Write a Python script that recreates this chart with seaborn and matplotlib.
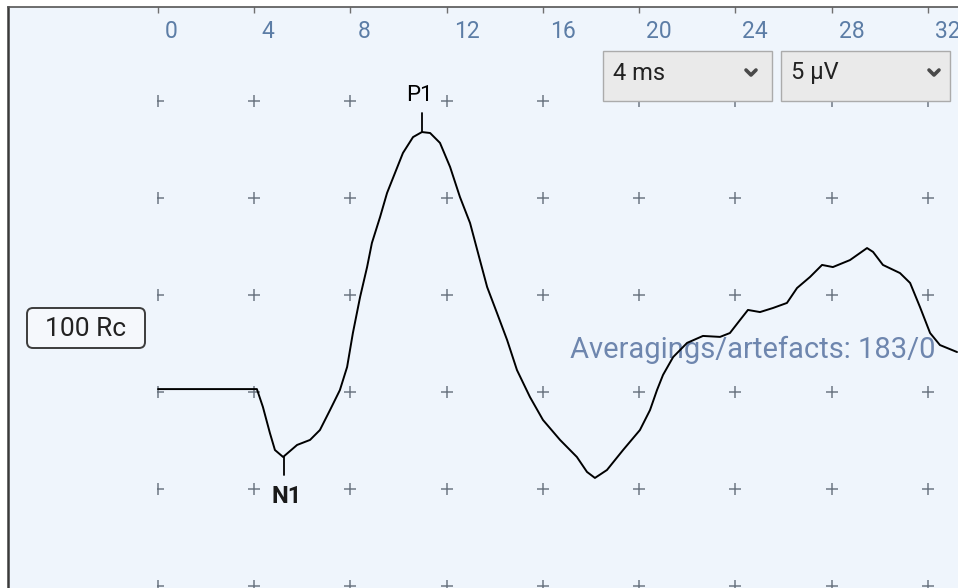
import numpy as np
import pandas as pd
import matplotlib
matplotlib.use("Agg")
import matplotlib.pyplot as plt
import seaborn as sns
from matplotlib.patches import Rectangle, FancyBboxPatch
from matplotlib.transforms import blended_transform_factory

# ---------------- data ----------------
time_ms = [0.0, 4.11, 4.36, 4.65, 4.86, 5.20, 5.78, 6.32, 6.73, 7.15, 7.56, 7.86,
           8.10, 8.40, 8.69, 8.89, 9.23, 9.52, 9.85, 10.18, 10.60, 10.97, 11.31,
           11.72, 12.14, 12.55, 12.97, 13.38, 13.68, 14.09, 14.51, 14.92, 15.46,
           16.00, 16.71, 17.41, 17.83, 18.16, 18.66, 19.33, 20.03, 20.45, 20.74,
           20.99, 21.41, 21.99, 22.65, 23.36, 23.77, 24.19, 24.52, 25.02, 25.56,
           26.14, 26.56, 27.10, 27.60, 28.05, 28.76, 29.47, 29.72, 30.13, 30.84,
           31.26, 31.67, 32.09, 32.50, 33.21]
amp_uv = [0.15, 0.15, -0.77, -2.11, -2.99, -3.35, -2.73, -2.47, -1.96, -0.93, 0.10, 1.29,
          3.04, 4.90, 6.44, 7.68, 9.02, 10.26, 11.29, 12.32, 13.14, 13.40, 13.35,
          12.84, 11.60, 10.05, 8.71, 6.80, 5.41, 4.07, 2.68, 1.13, -0.26,
          -1.44, -2.47, -3.35, -4.12, -4.43, -4.02, -2.99, -1.96, -0.93, 0.10,
          0.88, 1.80, 2.53, 2.89, 2.84, 3.04, 3.71, 4.23, 4.12, 4.33,
          4.59, 5.36, 5.93, 6.55, 6.44, 6.80, 7.42, 7.22, 6.55, 6.13,
          5.62, 4.38, 3.04, 2.42, 2.06]
x_ticks = [0, 4, 8, 12, 16, 20, 24, 28, 32]
x_tick_labels = ["0", "4", "8", "12", "16", "20", "24", "28", "32"]
grid_rows_uv = [15, 10, 5, 0, -5, -10]
peak_labels = ["P1", "N1"]
channel_label = "100 Rc"
info_text = "Averagings/artefacts: 183/0"
timebase_label = "4 ms"
gain_label = "5 µV"

df = pd.DataFrame({"t": time_ms, "v": amp_uv})

# ---------------- figure ----------------
sns.set_theme(style="white")
plt.rcParams["font.family"] = ["Roboto", "DejaVu Sans"]

W, H = 958, 588
fig = plt.figure(figsize=(W / 100, H / 100), dpi=100, facecolor="white")

ax = fig.add_axes([8 / W, 0, (W - 8) / W, (H - 7) / H], zorder=1)
ax.set_facecolor("#EFF5FC")
ax.set_xlim((8 - 158) / 24.06, (958 - 158) / 24.06)
ax.set_ylim((392 - 588) / 19.4, (392 - 7) / 19.4)

# grid of plus markers
gx, gy = np.meshgrid(x_ticks, grid_rows_uv)
clip = Rectangle((-0.06, -30), 60, 60, transform=ax.transData)
sc = ax.scatter(gx.ravel(), gy.ravel(), marker="+", s=75, c="#6E7884",
                linewidths=1.1, zorder=2)
sc.set_clip_path(clip)

# info text (under the trace)
ax.text(17.12, 2.16, info_text, ha="left", va="center", fontsize=21,
        color="#6E86AE", zorder=2)

# waveform
sns.lineplot(data=df, x="t", y="v", ax=ax, color="black", linewidth=1.4,
             estimator=None, sort=False, zorder=4)
ax.set_xlabel("")
ax.set_ylabel("")

# peak markers
i_p = int(np.argmax(amp_uv))
i_n = int(np.argmin(amp_uv[:20]))
tp, vp = time_ms[i_p], amp_uv[i_p]
tn, vn = time_ms[i_n], amp_uv[i_n]
ax.plot([tp, tp], [vp, vp + 1.0], color="black", lw=1.3, zorder=4)
ax.plot([tn + 0.05, tn + 0.05], [vn, vn - 0.95], color="black", lw=1.3, zorder=4)
ax.text(tp - 0.1, 15.3, peak_labels[0], ha="center", va="center", fontsize=16,
        color="black", zorder=5)
ax.text(tn + 0.15, -5.4, peak_labels[1], ha="center", va="center", fontsize=17,
        fontweight="bold", color="#1A1A1A", zorder=5)

# axes frame and top ticks
for s in ["right", "bottom"]:
    ax.spines[s].set_visible(False)
ax.spines["left"].set_color("#3A3A3A")
ax.spines["left"].set_linewidth(1.8)
ax.spines["top"].set_color("#555555")
ax.spines["top"].set_linewidth(1.2)
ax.set_xticks(x_ticks)
ax.set_yticks([])
ax.tick_params(axis="x", top=True, bottom=False, labeltop=False, labelbottom=False,
               direction="in", length=4, width=1, color="#707070")
tr = blended_transform_factory(ax.transData, ax.transAxes)
for t, lab in zip(x_ticks, x_tick_labels):
    ax.text(t + 0.29, (H - 31) / (H - 7), lab, transform=tr, ha="left", va="center",
            fontsize=16.5, color="#5C7DA6")

# ---------------- overlay for UI elements (pixel coords) ----------------
ov = fig.add_axes([0, 0, 1, 1], zorder=3)
ov.set_xlim(0, W)
ov.set_ylim(H, 0)
ov.axis("off")
ov.patch.set_visible(False)

# channel box
r = 6
ov.add_patch(FancyBboxPatch((27 + r, 308 + r), 118 - 2 * r, 40 - 2 * r,
                            boxstyle=f"round,pad={r}", fc="#F5F8FC", ec="#3C3C3C", lw=1.4))
ov.text(86, 329, channel_label, ha="center", va="center", fontsize=19, color="#222222")

# dropdowns
for (x0, x1, lab, chx) in [(603, 772, timebase_label, 751), (781, 950, gain_label, 934)]:
    ov.add_patch(Rectangle((x0, 51), x1 - x0, 50, fc="#EAEAEA", ec="#ABABAB", lw=1.0))
    ov.text(x0 + 10, 73, lab, ha="left", va="center", fontsize=17, color="#222222")
    ov.plot([chx - 5, chx, chx + 5], [70, 75, 70], color="#4A4A4A", lw=2.6,
            solid_capstyle="round", solid_joinstyle="round")

fig.savefig("out.png", dpi=100, facecolor="white")
